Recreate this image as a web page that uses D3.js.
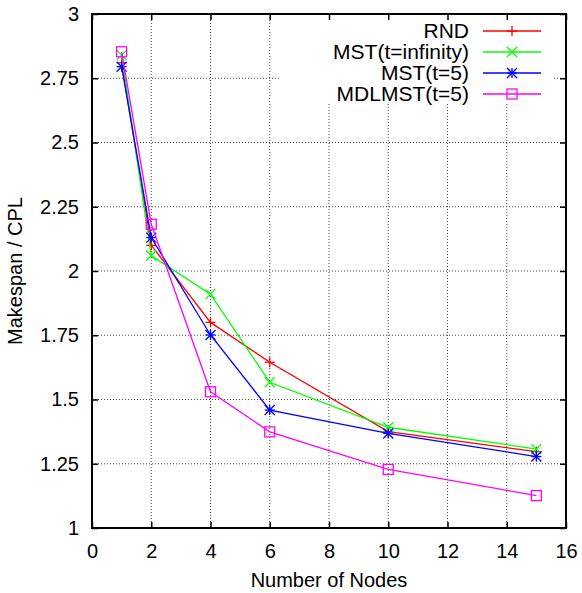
<!DOCTYPE html>
<html>
<head>
<meta charset="utf-8">
<script src="https://cdn.jsdelivr.net/npm/d3@7"></script>
<style>
	body { margin: 0; background: #fff; }
	text { font-family: "Liberation Sans", Arial, Helvetica, sans-serif; fill: #000; }
</style>
</head>
<body>
<svg width="582" height="593"></svg>
<script>
//*
//* Data
//*

var nodes = [1, 2, 4, 6, 10, 15];
var rnd = [2.81, 2.10, 1.80, 1.645, 1.375, 1.297];
var mstInf = [2.84, 2.06, 1.91, 1.567, 1.392, 1.307];
var mst5 = [2.795, 2.13, 1.751, 1.459, 1.368, 1.278];
var mdlmst5 = [2.853, 2.182, 1.53, 1.374, 1.228, 1.126];

var seriesNames = ["RND", "MST(t=infinity)", "MST(t=5)", "MDLMST(t=5)"];
var seriesColors = ["#ff0000", "#00ff00", "#0000ff", "#ff00ff"];
var seriesMarks = ["plus", "cross", "star", "square"];
var seriesValues = [rnd, mstInf, mst5, mdlmst5];

var xTicks = [0, 2, 4, 6, 8, 10, 12, 14, 16];
var yTicks = [1, 1.25, 1.5, 1.75, 2, 2.25, 2.5, 2.75, 3];

//*
//* Drawing
//*

var svg = d3.select("svg");
var plotL = 92, plotR = 566, plotT = 14, plotB = 528;
var fontSize = 20;

var x = d3.scaleLinear().domain([0, 16]).range([plotL, plotR]);
var y = d3.scaleLinear().domain([1, 3]).range([plotB, plotT]);

/* grid */
var grid = svg.append("g")
	.attr("stroke", "#444")
	.attr("stroke-width", 1)
	.attr("stroke-dasharray", "1,2");
grid.selectAll("line.gx")
	.data(xTicks.slice(1, -1))
	.enter()
	.append("line")
	.attr("x1", function(d) { return x(d); })
	.attr("x2", function(d) { return x(d); })
	.attr("y1", plotB)
	.attr("y2", plotT);
grid.selectAll("line.gy")
	.data(yTicks.slice(1, -1))
	.enter()
	.append("line")
	.attr("x1", plotL)
	.attr("x2", plotR)
	.attr("y1", function(d) { return y(d); })
	.attr("y2", function(d) { return y(d); });

/* legend box blanks out the grid behind it */
svg.append("rect")
	.attr("x", 280)
	.attr("y", plotT + 1)
	.attr("width", 273)
	.attr("height", 89)
	.attr("fill", "#fff");

/* axes: ticks on all four sides, pointing inwards */
var tickLen = 6;
svg.append("g")
	.attr("transform", "translate(0," + plotB + ")")
	.call(d3.axisBottom(x).tickValues(xTicks).tickSize(-tickLen).tickPadding(16)
		.tickFormat(d3.format("d")))
	.call(function(g) { g.select(".domain").remove(); });
svg.append("g")
	.attr("transform", "translate(0," + plotT + ")")
	.call(d3.axisTop(x).tickValues(xTicks).tickSize(-tickLen).tickFormat(""))
	.call(function(g) { g.select(".domain").remove(); });
svg.append("g")
	.attr("transform", "translate(" + plotL + ",0)")
	.call(d3.axisLeft(y).tickValues(yTicks).tickSize(-tickLen).tickPadding(13)
		.tickFormat(function(d) { return String(d); }))
	.call(function(g) { g.select(".domain").remove(); });
svg.append("g")
	.attr("transform", "translate(" + plotR + ",0)")
	.call(d3.axisRight(y).tickValues(yTicks).tickSize(-tickLen).tickFormat(""))
	.call(function(g) { g.select(".domain").remove(); });

svg.selectAll(".tick line")
	.attr("stroke", "#000")
	.attr("stroke-width", 1.5);
svg.selectAll(".tick text")
	.attr("font-size", fontSize)
	.attr("font-family", "Liberation Sans, Arial, sans-serif");

/* frame */
svg.append("rect")
	.attr("x", plotL)
	.attr("y", plotT)
	.attr("width", plotR - plotL)
	.attr("height", plotB - plotT)
	.attr("fill", "none")
	.attr("stroke", "#000")
	.attr("stroke-width", 2);

/* axis titles */
svg.append("text")
	.attr("x", (plotL + plotR) / 2)
	.attr("y", 587)
	.attr("text-anchor", "middle")
	.attr("font-size", fontSize)
	.text("Number of Nodes");
svg.append("text")
	.attr("transform", "translate(22," + ((plotT + plotB) / 2) + ") rotate(-90)")
	.attr("text-anchor", "middle")
	.attr("font-size", fontSize)
	.text("Makespan / CPL");

/* marker shapes */
function drawMark(g, kind, cx, cy, color) {
	var s = 5;
	var m = g.append("g")
		.attr("transform", "translate(" + cx + "," + cy + ")")
		.attr("stroke", color)
		.attr("stroke-width", 1.3)
		.attr("fill", "none");
	if (kind === "plus" || kind === "star") {
		m.append("line").attr("x1", -s).attr("x2", s).attr("y1", 0).attr("y2", 0);
		m.append("line").attr("x1", 0).attr("x2", 0).attr("y1", -s).attr("y2", s);
	}
	if (kind === "cross" || kind === "star") {
		m.append("line").attr("x1", -s).attr("x2", s).attr("y1", -s).attr("y2", s);
		m.append("line").attr("x1", -s).attr("x2", s).attr("y1", s).attr("y2", -s);
	}
	if (kind === "square") {
		m.append("rect").attr("x", -s).attr("y", -s).attr("width", 2 * s).attr("height", 2 * s);
	}
}

/* series */
var line = d3.line()
	.x(function(d) { return x(d[0]); })
	.y(function(d) { return y(d[1]); });

seriesValues.forEach(function(vals, i) {
	var pts = nodes.map(function(n, j) { return [n, vals[j]]; });
	svg.append("path")
		.datum(pts)
		.attr("d", line)
		.attr("fill", "none")
		.attr("stroke", seriesColors[i])
		.attr("stroke-width", 1.3);
	pts.forEach(function(p) {
		drawMark(svg, seriesMarks[i], x(p[0]), y(p[1]), seriesColors[i]);
	});
});

/* legend */
var legendY = d3.scalePoint().domain(seriesNames).range([31, 94]);
seriesNames.forEach(function(name, i) {
	var ly = legendY(name);
	svg.append("text")
		.attr("x", 469)
		.attr("y", ly)
		.attr("dy", "0.35em")
		.attr("text-anchor", "end")
		.attr("font-size", 21)
		.text(name);
	svg.append("line")
		.attr("x1", 483)
		.attr("x2", 541)
		.attr("y1", ly)
		.attr("y2", ly)
		.attr("stroke", seriesColors[i])
		.attr("stroke-width", 1.3);
	drawMark(svg, seriesMarks[i], 512, ly, seriesColors[i]);
});
</script>
</body>
</html>
